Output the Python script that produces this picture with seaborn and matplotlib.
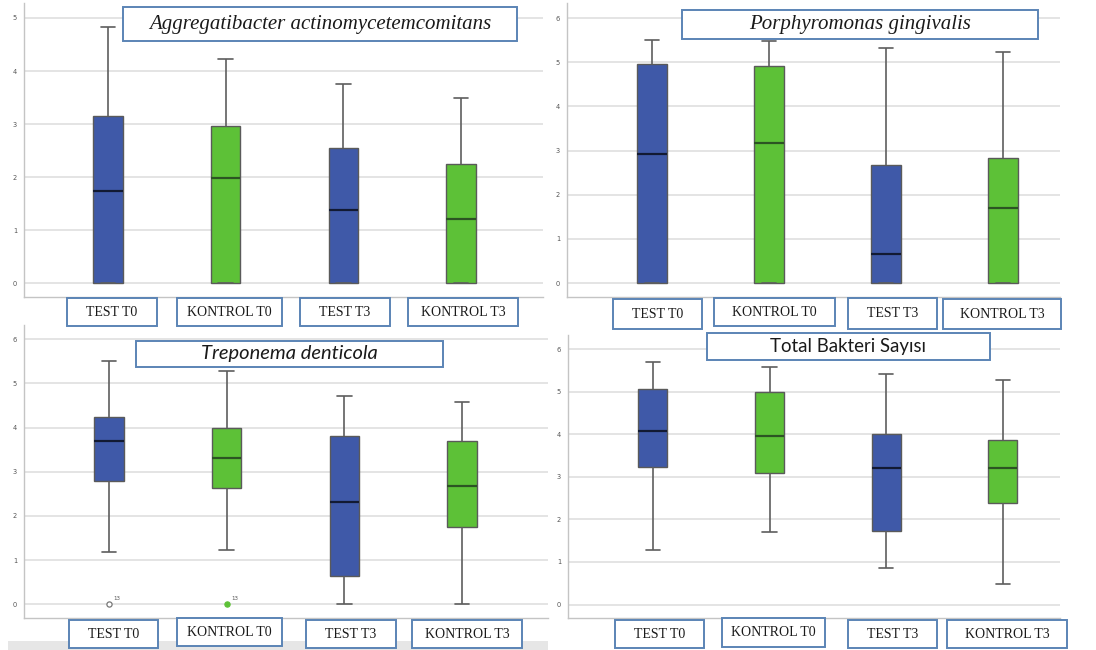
import numpy as np
import pandas as pd
import matplotlib
matplotlib.use("Agg")
import matplotlib.pyplot as plt
from matplotlib.patches import Rectangle
import seaborn as sns

groups = ["TEST T0", "KONTROL T0", "TEST T3", "KONTROL T3"]

# Five-number summaries (log10 counts) for each species panel
aa_min = [0.0, 0.0, 0.0, 0.0]
aa_q1 = [0.0, 0.0, 0.0, 0.0]
aa_median = [1.74, 1.98, 1.37, 1.20]
aa_q3 = [3.15, 2.97, 2.54, 2.24]
aa_max = [4.83, 4.23, 3.75, 3.50]

pg_min = [0.0, 0.0, 0.0, 0.0]
pg_q1 = [0.0, 0.0, 0.0, 0.0]
pg_median = [2.92, 3.18, 0.66, 1.69]
pg_q3 = [4.95, 4.92, 2.68, 2.84]
pg_max = [5.51, 5.48, 5.33, 5.23]

td_min = [1.19, 1.24, 0.0, 0.0]
td_q1 = [2.80, 2.64, 0.65, 1.74]
td_median = [3.69, 3.30, 2.31, 2.68]
td_q3 = [4.23, 3.98, 3.80, 3.70]
td_max = [5.50, 5.28, 4.72, 4.57]
td_outlier_group = ["TEST T0", "KONTROL T0"]
td_outlier_value = [0.0, 0.0]
td_outlier_case = ["13", "13"]

tb_min = [1.29, 1.71, 0.86, 0.49]
tb_q1 = [3.23, 3.09, 1.73, 2.39]
tb_median = [4.07, 3.95, 3.20, 3.21]
tb_q3 = [5.06, 5.00, 4.00, 3.86]
tb_max = [5.69, 5.58, 5.42, 5.28]

BLUE = "#3F59A8"
GREEN = "#5DC137"
palette = {"TEST T0": BLUE, "KONTROL T0": GREEN, "TEST T3": BLUE, "KONTROL T3": GREEN}
median_colour = {"TEST": "#121a33", "KONTROL": "#2c5423"}
FRAME = "#5B84B5"

W, H = 1096, 650
sns.set_style("white")
fig = plt.figure(figsize=(W / 100, H / 100), dpi=100)


def frac(x0, y0, x1, y1):
    return [x0 / W, 1 - y1 / H, (x1 - x0) / W, (y1 - y0) / H]


def summary_frame(mins, q1s, meds, q3s, maxs):
    # five points per group reproduce the quartiles exactly with linear percentiles
    rows = []
    for g, a, b, c, d, e in zip(groups, mins, q1s, meds, q3s, maxs):
        for v in (a, b, c, d, e):
            rows.append({"group": g, "value": v, "arm": g.split()[0]})
    return pd.DataFrame(rows)


def framed_text(x0, y0, x1, y1, text, **kw):
    fig.patches.append(Rectangle((x0 / W, 1 - y1 / H), (x1 - x0) / W, (y1 - y0) / H,
                                 transform=fig.transFigure, facecolor="white",
                                 edgecolor=FRAME, linewidth=1.4, zorder=5))
    fig.text((x0 + x1) / 2 / W, 1 - (y0 + y1) / 2 / H, text, ha="center", va="center",
             zorder=6, color="#1a1a1a", **kw)


def panel(rect, xlim, ylim, yticks, df):
    ax = fig.add_axes(frac(*rect))
    for arm, sub in df.groupby("arm"):
        sns.boxplot(data=sub, x="group", y="value", hue="group", order=groups,
                    hue_order=groups, palette=palette, legend=False, dodge=False,
                    width=0.25, whis=(0, 100), saturation=1,
                    linecolor="#5a5a5a", linewidth=1.0,
                    medianprops={"color": median_colour[arm], "linewidth": 1.6},
                    whiskerprops={"color": "#5e5e5e", "linewidth": 1.2},
                    capprops={"color": "#5e5e5e", "linewidth": 1.2},
                    ax=ax)
    ax.set_xlim(*xlim)
    ax.set_ylim(*ylim)
    ax.set_yticks(yticks)
    ax.set_yticklabels([str(t) for t in yticks])
    ax.set_xlabel("")
    ax.set_ylabel("")
    ax.tick_params(axis="x", length=0, labelbottom=False)
    ax.tick_params(axis="y", length=0, pad=5, labelsize=4.8, labelcolor="#555555")
    ax.yaxis.grid(True, color="#e2e2e2", linewidth=1.3)
    ax.set_axisbelow(True)
    for s in ("top", "right"):
        ax.spines[s].set_visible(False)
    for s in ("left", "bottom"):
        ax.spines[s].set_color("#c4c4c4")
        ax.spines[s].set_linewidth(1.0)
    ax.patch.set_alpha(0)
    return ax


# page band under the lower-left panel
fig.patches.append(Rectangle((8 / W, 0), 540 / W, 9 / H, transform=fig.transFigure,
                             facecolor="#e6e6e6", edgecolor="none", zorder=0))

ax1 = panel((24, 3, 543, 297), (-0.714, 3.696), (-0.264, 5.283), range(0, 6),
            summary_frame(aa_min, aa_q1, aa_median, aa_q3, aa_max))
ax2 = panel((567, 3, 1060, 297), (-0.726, 3.487), (-0.317, 6.34), range(0, 7),
            summary_frame(pg_min, pg_q1, pg_median, pg_q3, pg_max))
ax3 = panel((24, 325, 548, 618), (-0.722, 3.73), (-0.31, 6.32), range(0, 7),
            summary_frame(td_min, td_q1, td_median, td_q3, td_max))
ax4 = panel((568, 335, 1060, 618), (-0.728, 3.49), (-0.315, 6.33), range(0, 7),
            summary_frame(tb_min, tb_q1, tb_median, tb_q3, tb_max))

# outlying cases in the Treponema panel
for g, v, case in zip(td_outlier_group, td_outlier_value, td_outlier_case):
    xi = groups.index(g)
    face = "white" if g.startswith("TEST") else palette[g]
    edge = "#777777" if g.startswith("TEST") else palette[g]
    ax3.scatter([xi], [v], s=14, facecolor=face, edgecolor=edge, linewidth=0.9, zorder=4)
    ax3.annotate(case, (xi, v), xytext=(3, 3), textcoords="offset points",
                 fontsize=4, color="#555555")

# panel titles
framed_text(123, 7, 517, 41, "Aggregatibacter actinomycetemcomitans",
            family="Liberation Serif", style="italic", fontsize=15)
framed_text(682, 10, 1038, 39, "Porphyromonas gingivalis",
            family="Liberation Serif", style="italic", fontsize=15)
framed_text(136, 341, 443, 367, "Treponema denticola",
            family="Lato", style="italic", fontsize=14.5)
framed_text(707, 333, 990, 360, "Total Bakteri Sayısı",
            family="Lato", fontsize=13.4)

# group labels under each panel
label_boxes = [
    [(67, 298, 157, 326), (177, 298, 282, 326), (300, 298, 390, 326), (408, 298, 518, 326)],
    [(613, 299, 702, 329), (714, 298, 835, 326), (848, 298, 937, 329), (943, 299, 1061, 329)],
    [(69, 620, 158, 648), (177, 618, 282, 646), (306, 620, 396, 648), (412, 620, 522, 648)],
    [(615, 620, 704, 648), (722, 618, 825, 647), (848, 620, 937, 648), (947, 620, 1067, 648)],
]
for boxes in label_boxes:
    for g, (x0, y0, x1, y1) in zip(groups, boxes):
        framed_text(x0, y0, x1, y1, g, family="Liberation Serif", fontsize=10)

fig.savefig("out.png", dpi=100, facecolor="white")
